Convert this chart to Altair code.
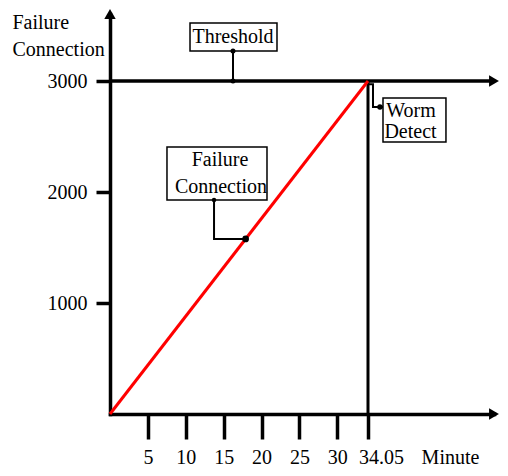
import altair as alt
import pandas as pd

# ---- data ----
x_ticks = [5, 10, 15, 20, 25, 30, 34.05]
y_ticks = [1000, 2000, 3000]
x_max = 50.68
y_max = 3604
threshold = 3000
detect_minute = 34.05
fc_minutes = [0, 34.05]
fc_values = [0, 3000]

box_m1 = [10.56, 36.03, 7.52]
box_m2 = [22.04, 44.34, 20.72]
box_v1 = [3270, 2450, 1928]
box_v2 = [3523, 2847, 2405]

text_lines = ["Threshold", "Worm", "Detect", "Failure", "Connection"]
text_m = [16.23, 39.72, 39.66, 14.52, 14.65]
text_v = [3342, 2676, 2486, 2234, 1991]

conn_id = ["t", "t", "w", "w", "w", "w", "f", "f", "f"]
conn_ord = [0, 1, 0, 1, 2, 3, 0, 1, 2]
conn_m = [16.23, 16.23, 34.05, 34.71, 34.71, 36.03, 13.73, 13.73, 17.9]
conn_v = [3270, 3000, 2970, 2970, 2766, 2766, 1928, 1577, 1577]

dot_m = [16.23, 16.23, 35.63, 13.73, 17.9]
dot_v = [3270, 3000, 2766, 1928, 1577]
dot_s = [25, 25, 30, 20, 45]

arrow_m = [x_max, x_max, 0]
arrow_v = [0, threshold, y_max]
arrow_shape = ["triangle-right", "triangle-right", "triangle-up"]

FONT = "Liberation Serif"

x_axis = alt.Axis(
    values=x_ticks, title="Minute", titleX=340, titleY=49, titleAlign="center",
    titleBaseline="alphabetic", titleAngle=0, tickSize=25, labelPadding=24,
    labelBaseline="alphabetic", labelExpr="'' + datum.value",
    labelOffset={"condition": {"test": "datum.value > 34", "value": 13}, "value": 0},
    grid=False, labelFlush=False, labelOverlap=False,
)
y_axis = alt.Axis(
    values=y_ticks, format="d", title=["Failure", "Connection"], titleAngle=0,
    titleX=-98, titleY=14, titleAlign="left", titleBaseline="alphabetic",
    titleLineHeight=27, tickSize=14, labelPadding=9, grid=False,
    labelFlush=False, labelOverlap=False,
)
xs = alt.Scale(domain=[0, x_max], nice=False, zero=False)
ys = alt.Scale(domain=[0, y_max], nice=False, zero=False)


def X(f="m"):
    return alt.X(f"{f}:Q", scale=xs, axis=x_axis)


def Y(f="v"):
    return alt.Y(f"{f}:Q", scale=ys, axis=y_axis)


line_df = pd.DataFrame({"m": fc_minutes, "v": fc_values})
thr_df = pd.DataFrame({"m": [0], "m2": [x_max], "v": [threshold]})
det_df = pd.DataFrame({"m": [detect_minute], "v": [0], "v2": [threshold]})
arrow_df = pd.DataFrame({"m": arrow_m, "v": arrow_v, "s": arrow_shape})
conn_df = pd.DataFrame({"m": conn_m, "v": conn_v, "id": conn_id, "o": conn_ord})
dot_df = pd.DataFrame({"m": dot_m, "v": dot_v, "s": dot_s})
box_df = pd.DataFrame({"m": box_m1, "m2": box_m2, "v": box_v1, "v2": box_v2})
text_df = pd.DataFrame({"m": text_m, "v": text_v, "t": text_lines})

thr = alt.Chart(thr_df).mark_rule(color="black", strokeWidth=3.5).encode(
    x=X(), x2="m2:Q", y=Y())
det = alt.Chart(det_df).mark_rule(color="black", strokeWidth=3).encode(
    x=X(), y=Y(), y2="v2:Q")
red = alt.Chart(line_df).mark_line(color="#ff0000", strokeWidth=3).encode(x=X(), y=Y())
arrows = alt.Chart(arrow_df).mark_point(filled=True, color="black", opacity=1, size=130).encode(
    x=X(), y=Y(), shape=alt.Shape("s:N", scale=None, legend=None))
conn = alt.Chart(conn_df).mark_line(color="black", strokeWidth=2).encode(
    x=X(), y=Y(), detail="id:N", order="o:Q")
dots = alt.Chart(dot_df).mark_circle(color="black", opacity=1).encode(
    x=X(), y=Y(), size=alt.Size("s:Q", scale=None, legend=None))
boxes = alt.Chart(box_df).mark_rect(fill="white", stroke="black", strokeWidth=1.5).encode(
    x=X(), x2="m2:Q", y=Y(), y2="v2:Q")
texts = alt.Chart(text_df).mark_text(font=FONT, fontSize=20, color="black",
                                     align="center", baseline="alphabetic").encode(
    x=X(), y=Y(), text="t:N")

chart = alt.layer(thr, det, conn, boxes, texts, red, dots, arrows).properties(
    width=384, height=400,
    autosize=alt.AutoSizeParams(type="none"),
    padding={"left": 102, "top": 6, "right": 6, "bottom": 54},
).configure_view(strokeWidth=0).configure_axis(
    domainColor="black", domainWidth=3.5, domainCap="square",
    tickColor="black", tickWidth=3.5,
    labelFont=FONT, labelFontSize=20, labelColor="black",
    titleFont=FONT, titleFontSize=20, titleFontWeight="normal", titleColor="black",
)

chart.save("out.html", embed_options={"renderer": "svg", "actions": False})
